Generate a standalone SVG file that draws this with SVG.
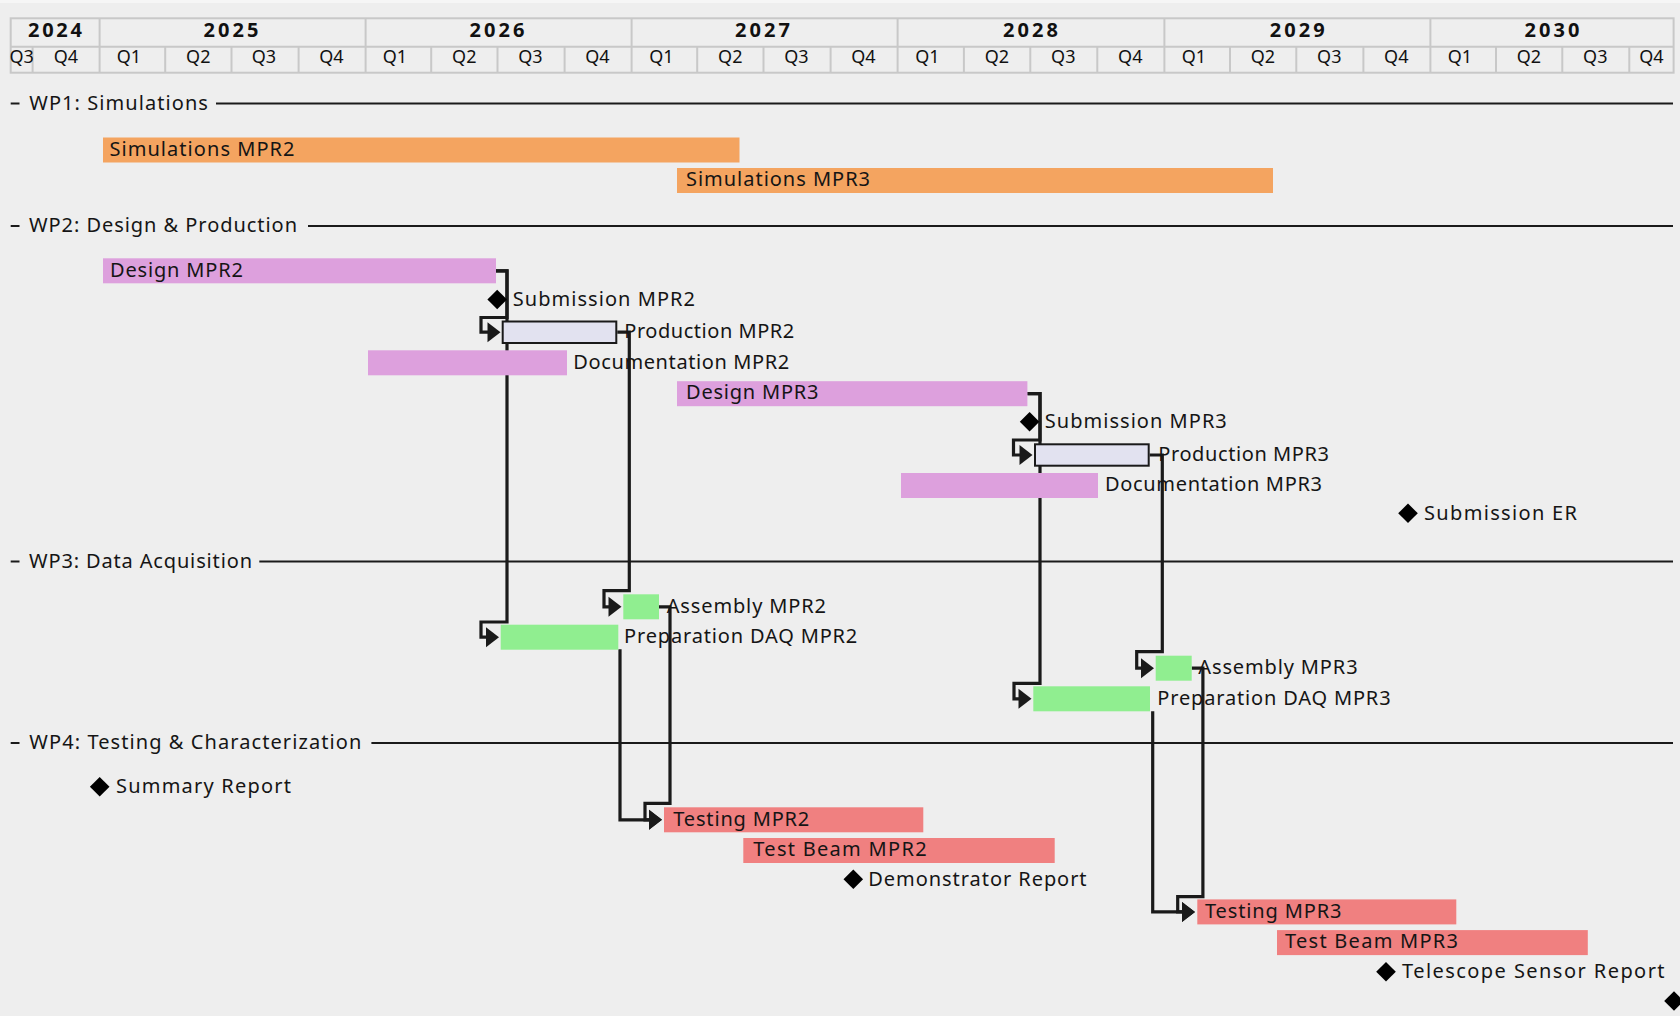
<svg xmlns="http://www.w3.org/2000/svg" width="1680" height="1016" viewBox="0 0 1680 1016">
<defs>
<style>
.yr{font-family:"Noto Sans","DejaVu Sans",sans-serif;font-size:20px;font-weight:bold;fill:#111;text-anchor:middle}
.q{font-family:"Noto Sans","DejaVu Sans",sans-serif;font-size:18px;fill:#111;text-anchor:middle}
.t{font-family:"Noto Sans","DejaVu Sans",sans-serif;font-size:20px;fill:#151515}
.grid{stroke:#C8C8C8;stroke-width:2;fill:none}
.sep{stroke:#1A1A1A;stroke-width:1.8;fill:none}
.conn{stroke:#1A1A1A;stroke-width:3.2;fill:none;stroke-linejoin:miter;stroke-linecap:butt}
.sim{fill:#F4A460}
.des{fill:#DDA0DD}
.daq{fill:#90EE90}
.tst{fill:#F08080}
.prod{fill:#E2E2F0;stroke:#1A1A1A;stroke-width:2}
.ms{fill:#000}
</style>
<marker id="ah" markerUnits="userSpaceOnUse" markerWidth="13" markerHeight="20" viewBox="0 0 13 20" refX="8" refY="10" orient="auto" overflow="visible">
<path d="M0,0 L13,10 L0,20 Z" fill="#1A1A1A"/>
</marker>
<path id="dia" d="M0,-9.8 L9.8,0 L0,9.8 L-9.8,0 Z"/>
</defs>
<rect width="1680" height="1016" fill="#EEEEEE"/>
<rect width="1680" height="3" fill="#F6F6F6"/>

<g id="header">
<rect class="grid" x="10.7" y="18.3" width="1662.9" height="54.4"/>
<path class="grid" d="M10.7,46.7H1673.6 M99.6,18.3V72.7 M365.6,18.3V72.7 M631.6,18.3V72.7 M897.6,18.3V72.7 M1164.4,18.3V72.7 M1430.4,18.3V72.7 M32.6,46.7V72.7 M165.2,46.7V72.7 M231.5,46.7V72.7 M298.6,46.7V72.7 M431.2,46.7V72.7 M497.5,46.7V72.7 M564.6,46.7V72.7 M697.2,46.7V72.7 M763.5,46.7V72.7 M830.6,46.7V72.7 M963.9,46.7V72.7 M1030.3,46.7V72.7 M1097.3,46.7V72.7 M1230,46.7V72.7 M1296.3,46.7V72.7 M1363.4,46.7V72.7 M1496,46.7V72.7 M1562.3,46.7V72.7 M1629.3,46.7V72.7"/>
<text class="yr" x="55" y="36.5" textLength="54" lengthAdjust="spacing">2024</text>
<text class="yr" x="231" y="36.5" textLength="55" lengthAdjust="spacing">2025</text>
<text class="yr" x="497" y="36.5" textLength="55" lengthAdjust="spacing">2026</text>
<text class="yr" x="762.5" y="36.5" textLength="55" lengthAdjust="spacing">2027</text>
<text class="yr" x="1030.5" y="36.5" textLength="55" lengthAdjust="spacing">2028</text>
<text class="yr" x="1297.3" y="36.5" textLength="55" lengthAdjust="spacing">2029</text>
<text class="yr" x="1552" y="36.5" textLength="55" lengthAdjust="spacing">2030</text>
<text class="q" x="21.6" y="63">Q3</text>
<text class="q" x="66" y="63">Q4</text>
<text class="q" x="129" y="63">Q1</text>
<text class="q" x="198.3" y="63">Q2</text>
<text class="q" x="264" y="63">Q3</text>
<text class="q" x="331.5" y="63">Q4</text>
<text class="q" x="395" y="63">Q1</text>
<text class="q" x="464.3" y="63">Q2</text>
<text class="q" x="530.5" y="63">Q3</text>
<text class="q" x="597.5" y="63">Q4</text>
<text class="q" x="661.5" y="63">Q1</text>
<text class="q" x="730.3" y="63">Q2</text>
<text class="q" x="796.5" y="63">Q3</text>
<text class="q" x="863.5" y="63">Q4</text>
<text class="q" x="927.5" y="63">Q1</text>
<text class="q" x="997" y="63">Q2</text>
<text class="q" x="1063.3" y="63">Q3</text>
<text class="q" x="1130.3" y="63">Q4</text>
<text class="q" x="1194" y="63">Q1</text>
<text class="q" x="1263" y="63">Q2</text>
<text class="q" x="1329.3" y="63">Q3</text>
<text class="q" x="1396.3" y="63">Q4</text>
<text class="q" x="1460" y="63">Q1</text>
<text class="q" x="1529" y="63">Q2</text>
<text class="q" x="1595.3" y="63">Q3</text>
<text class="q" x="1651.4" y="63">Q4</text>
</g>

<g id="separators">
<path class="sep" d="M10.7,103.5H19.5 M216,103.5H1673 M10.7,226H19.5 M308,226H1673 M10.7,561.5H19.5 M259.3,561.5H1673 M10.7,743H19.5 M371.4,743H1673"/>
<text class="t" x="29.3" y="109.5" textLength="178.6" lengthAdjust="spacing">WP1: Simulations</text>
<text class="t" x="29" y="232" textLength="268" lengthAdjust="spacing">WP2: Design &amp; Production</text>
<text class="t" x="29" y="567.5" textLength="223" lengthAdjust="spacing">WP3: Data Acquisition</text>
<text class="t" x="29.3" y="749" textLength="332" lengthAdjust="spacing">WP4: Testing &amp; Characterization</text>
</g>

<g id="connectors">
<path class="conn" marker-end="url(#ah)" d="M496,270.8H507V317.5H481V332.2H495.5"/>
<path class="conn" marker-end="url(#ah)" d="M496,270.8H507V622H481V637.2H494"/>
<path class="conn" marker-end="url(#ah)" d="M617.3,332.2H629.3V590.7H604V606.8H616.5"/>
<path class="conn" marker-end="url(#ah)" d="M620,649.3V819.8H657"/>
<path class="conn" marker-end="url(#ah)" d="M659,606.8H670V803.3H645V819.8H657"/>
<path class="conn" marker-end="url(#ah)" d="M1027.4,393.7H1040V440H1013.5V455H1027.5"/>
<path class="conn" marker-end="url(#ah)" d="M1027.4,393.7H1040V683.3H1014V698.8H1026.5"/>
<path class="conn" marker-end="url(#ah)" d="M1149.7,455H1162.3V651.7H1136.7V668.2H1149"/>
<path class="conn" marker-end="url(#ah)" d="M1152.7,711.3V911.9H1190"/>
<path class="conn" marker-end="url(#ah)" d="M1191.7,668.2H1202.9V896.7H1177.7V911.9H1190"/>
</g>

<g id="sim-mpr2"><rect class="sim" x="103" y="137.5" width="636.5" height="25"/><text class="t" x="109.5" y="155.7" textLength="185" lengthAdjust="spacing">Simulations MPR2</text></g>
<g id="sim-mpr3"><rect class="sim" x="677" y="168" width="596" height="25"/><text class="t" x="686" y="186.2" textLength="184" lengthAdjust="spacing">Simulations MPR3</text></g>

<g id="design-mpr2"><rect class="des" x="103" y="258.3" width="393" height="25"/><text class="t" x="110" y="276.5" textLength="133" lengthAdjust="spacing">Design MPR2</text></g>
<g id="submission-mpr2"><use href="#dia" class="ms" x="497.2" y="299.5"/><text class="t" x="512.7" y="306" textLength="182.3" lengthAdjust="spacing">Submission MPR2</text></g>
<g id="production-mpr2"><rect class="prod" x="502.7" y="321.5" width="113.6" height="21.5"/><text class="t" x="624.3" y="338" textLength="170" lengthAdjust="spacing">Production MPR2</text></g>
<g id="documentation-mpr2"><rect class="des" x="368" y="350.3" width="199" height="25"/><text class="t" x="573.3" y="368.5" textLength="216" lengthAdjust="spacing">Documentation MPR2</text></g>
<g id="design-mpr3"><rect class="des" x="677" y="381.2" width="350.4" height="25"/><text class="t" x="686" y="399.4" textLength="132.5" lengthAdjust="spacing">Design MPR3</text></g>
<g id="submission-mpr3"><use href="#dia" class="ms" x="1029.6" y="421.7"/><text class="t" x="1044.8" y="428.2" textLength="182" lengthAdjust="spacing">Submission MPR3</text></g>
<g id="production-mpr3"><rect class="prod" x="1035" y="444.3" width="113.7" height="21.4"/><text class="t" x="1158.3" y="460.8" textLength="170.7" lengthAdjust="spacing">Production MPR3</text></g>
<g id="documentation-mpr3"><rect class="des" x="901" y="473" width="197" height="25"/><text class="t" x="1105" y="491.2" textLength="217" lengthAdjust="spacing">Documentation MPR3</text></g>
<g id="submission-er"><use href="#dia" class="ms" x="1408" y="513.3"/><text class="t" x="1424" y="519.8" textLength="153" lengthAdjust="spacing">Submission ER</text></g>

<g id="assembly-mpr2"><rect class="daq" x="623.3" y="594.3" width="35.7" height="25"/><text class="t" x="666.7" y="612.5" textLength="159.3" lengthAdjust="spacing">Assembly MPR2</text></g>
<g id="prep-daq-mpr2"><rect class="daq" x="500.7" y="624.7" width="117.6" height="25"/><text class="t" x="624" y="642.9" textLength="233.3" lengthAdjust="spacing">Preparation DAQ MPR2</text></g>
<g id="assembly-mpr3"><rect class="daq" x="1155.7" y="655.7" width="36" height="25"/><text class="t" x="1198.3" y="673.9" textLength="159.3" lengthAdjust="spacing">Assembly MPR3</text></g>
<g id="prep-daq-mpr3"><rect class="daq" x="1033.3" y="686.3" width="116.7" height="25"/><text class="t" x="1157.3" y="704.5" textLength="233.3" lengthAdjust="spacing">Preparation DAQ MPR3</text></g>

<g id="summary-report"><use href="#dia" class="ms" x="99.7" y="786.7"/><text class="t" x="116" y="793.2" textLength="175" lengthAdjust="spacing">Summary Report</text></g>
<g id="testing-mpr2"><rect class="tst" x="664" y="807.3" width="259.3" height="25"/><text class="t" x="673.3" y="825.5" textLength="136" lengthAdjust="spacing">Testing MPR2</text></g>
<g id="test-beam-mpr2"><rect class="tst" x="743.3" y="838" width="311.4" height="25"/><text class="t" x="753.3" y="856.2" textLength="173.3" lengthAdjust="spacing">Test Beam MPR2</text></g>
<g id="demonstrator-report"><use href="#dia" class="ms" x="853.3" y="879.3"/><text class="t" x="868.3" y="885.8" textLength="218.3" lengthAdjust="spacing">Demonstrator Report</text></g>
<g id="testing-mpr3"><rect class="tst" x="1197.3" y="899.4" width="259" height="25"/><text class="t" x="1205" y="917.6" textLength="136.4" lengthAdjust="spacing">Testing MPR3</text></g>
<g id="test-beam-mpr3"><rect class="tst" x="1277" y="930.1" width="310.8" height="25"/><text class="t" x="1285" y="948.3" textLength="173" lengthAdjust="spacing">Test Beam MPR3</text></g>
<g id="telescope-sensor-report"><use href="#dia" class="ms" x="1386" y="971.7"/><text class="t" x="1402" y="978.2" textLength="262.6" lengthAdjust="spacing">Telescope Sensor Report</text></g>
<g id="end-milestone"><use href="#dia" class="ms" x="1674" y="1001"/></g>
</svg>
